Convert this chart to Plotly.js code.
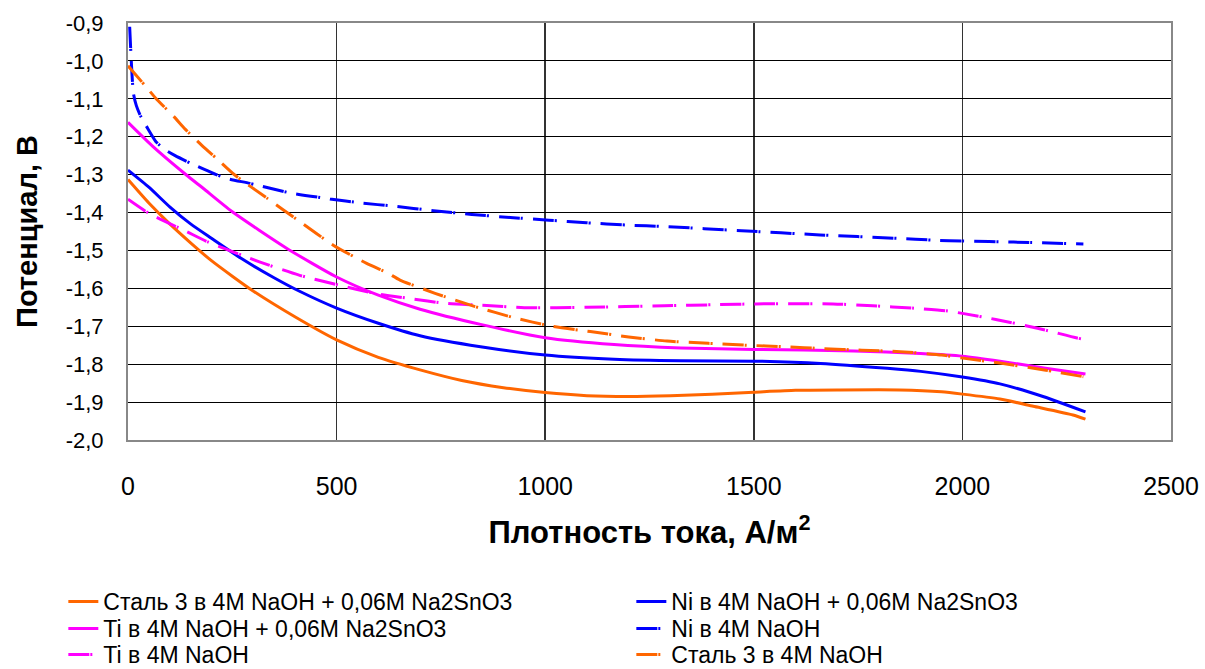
<!DOCTYPE html>
<html>
<head>
<meta charset="utf-8">
<script src="https://cdn.plot.ly/plotly-3.0.1.min.js"></script>
<style>html,body{margin:0;padding:0;background:#fff;}#chart{width:1205px;height:669px;}</style>
</head>
<body>
<div id="chart"></div>
<script>
// Series names (legend order, row by row)
const seriesNames = [
  "Сталь 3 в 4M NaOH + 0,06M Na2SnO3",
  "Ni в 4M NaOH + 0,06M Na2SnO3",
  "Ti в 4M NaOH + 0,06M Na2SnO3",
  "Ni в 4M NaOH",
  "Ti в 4M NaOH",
  "Сталь 3 в 4M NaOH"
];

// Сталь 3 в 4M NaOH + 0,06M Na2SnO3
const steelSnX = [0, 50, 100, 150, 200, 250, 300, 400, 500, 600, 700, 800, 900, 1000, 1100, 1200, 1300, 1400, 1500, 1600, 1700, 1850, 1950, 2000, 2090, 2170, 2265, 2295];
const steelSnY = [-1.313, -1.375, -1.43, -1.48, -1.527, -1.568, -1.607, -1.675, -1.736, -1.782, -1.815, -1.843, -1.862, -1.875, -1.883, -1.885, -1.883, -1.879, -1.874, -1.869, -1.868, -1.868, -1.873, -1.879, -1.892, -1.911, -1.934, -1.945];

// Ni в 4M NaOH + 0,06M Na2SnO3
const niSnX = [0, 50, 100, 150, 200, 270, 350, 410, 500, 600, 700, 845, 1000, 1165, 1325, 1500, 1660, 1820, 1900, 2000, 2090, 2195, 2295];
const niSnY = [-1.288, -1.333, -1.385, -1.43, -1.468, -1.52, -1.572, -1.607, -1.652, -1.692, -1.725, -1.754, -1.776, -1.787, -1.791, -1.792, -1.798, -1.811, -1.819, -1.834, -1.852, -1.886, -1.926];

// Ti в 4M NaOH + 0,06M Na2SnO3
const tiSnX = [0, 60, 140, 180, 250, 380, 500, 600, 700, 845, 1000, 1165, 1325, 1500, 1740, 1900, 2000, 2090, 2195, 2295];
const tiSnY = [-1.162, -1.226, -1.301, -1.336, -1.398, -1.494, -1.57, -1.618, -1.655, -1.695, -1.73, -1.748, -1.757, -1.761, -1.765, -1.772, -1.779, -1.792, -1.81, -1.826];

// Ni в 4M NaOH
const niX = [4, 13, 20, 30, 45, 67, 90, 113, 150, 205, 237, 292, 388, 484, 560, 636, 732, 824, 916, 1009, 1099, 1195, 1287, 1471, 1659, 1843, 1935, 2001, 2123, 2290];
const niY = [-0.91, -1.085, -1.118, -1.145, -1.174, -1.213, -1.235, -1.25, -1.27, -1.297, -1.31, -1.323, -1.348, -1.364, -1.375, -1.383, -1.395, -1.405, -1.413, -1.42, -1.427, -1.433, -1.437, -1.448, -1.459, -1.468, -1.473, -1.475, -1.478, -1.483];

// Ti в 4M NaOH
const tiX = [0, 50, 140, 190, 315, 410, 500, 600, 670, 765, 860, 950, 1100, 1285, 1415, 1505, 1690, 1785, 1880, 1960, 2000, 2080, 2180, 2275, 2295];
const tiY = [-1.365, -1.402, -1.45, -1.477, -1.53, -1.565, -1.59, -1.615, -1.626, -1.64, -1.645, -1.651, -1.65, -1.646, -1.643, -1.641, -1.641, -1.646, -1.652, -1.659, -1.666, -1.682, -1.705, -1.731, -1.735];

// Сталь 3 в 4M NaOH
const steelX = [0, 40, 67, 110, 137, 180, 212, 256, 333, 412, 492, 572, 620, 652, 736, 832, 924, 1016, 1108, 1200, 1292, 1391, 1483, 1575, 1667, 1759, 1851, 1951, 2001, 2090, 2200, 2290];
const steelY = [-1.013, -1.064, -1.099, -1.147, -1.18, -1.226, -1.257, -1.301, -1.362, -1.424, -1.486, -1.534, -1.558, -1.578, -1.613, -1.648, -1.677, -1.7, -1.714, -1.728, -1.739, -1.745, -1.75, -1.754, -1.759, -1.763, -1.767, -1.776, -1.784, -1.797, -1.816, -1.833];

// Axis ticks
const xTickVals = [0, 500, 1000, 1500, 2000, 2500];
const yTickVals = [-2.0, -1.9, -1.8, -1.7, -1.6, -1.5, -1.4, -1.3, -1.2, -1.1, -1.0, -0.9];
const yTickLabels = ["-2,0", "-1,9", "-1,8", "-1,7", "-1,6", "-1,5", "-1,4", "-1,3", "-1,2", "-1,1", "-1,0", "-0,9"];

const ORANGE = "#FF6600", BLUE = "#0000FF", MAGENTA = "#FF00FF";
const DASHDOT = "21px,1px,2px,10px";

const xs = [steelSnX, niSnX, tiSnX, niX, tiX, steelX];
const ys = [steelSnY, niSnY, tiSnY, niY, tiY, steelY];
const colors = [ORANGE, BLUE, MAGENTA, BLUE, MAGENTA, ORANGE];
const dashes = ["solid", "solid", "solid", DASHDOT, DASHDOT, DASHDOT];
const legendRows = ["legend", "legend", "legend2", "legend2", "legend3", "legend3"];

const traces = seriesNames.map((n, i) => ({
  type: "scatter", mode: "lines", name: n,
  x: xs[i], y: ys[i], legend: legendRows[i],
  line: {color: colors[i], width: 3, dash: dashes[i], shape: "spline", smoothing: 0.6}
}));

const FONT = "Liberation Sans, Arial, sans-serif";

function legendRow(yPaper) {
  return {
    orientation: "h", x: -0.062, xanchor: "left", y: yPaper, yanchor: "top",
    entrywidth: 523, traceorder: "normal",
    font: {size: 23, family: FONT, color: "#000"},
    bgcolor: "rgba(0,0,0,0)", itemwidth: 30
  };
}

const layout = {
  width: 1205, height: 669,
  margin: {l: 128, r: 34, t: 23, b: 229, autoexpand: false},
  paper_bgcolor: "#fff", plot_bgcolor: "#fff",
  font: {family: FONT, color: "#000"},
  showlegend: true,
  xaxis: {
    range: [0, 2500], tickvals: xTickVals, ticks: "", ticklabelstandoff: 23,
    tickfont: {size: 25, family: FONT, color: "#000"},
    showgrid: true, gridcolor: "#333", gridwidth: 1.5, zeroline: false,
    showline: true, linecolor: "#888", linewidth: 2, mirror: true,
    title: {text: "Плотность тока, А/м<sup>2</sup>", font: {size: 31, family: FONT, color: "#000", weight: "bold"}, standoff: 22}
  },
  yaxis: {
    range: [-2.0, -0.9], tickvals: yTickVals, ticktext: yTickLabels, ticks: "", ticklabelstandoff: 18,
    tickfont: {size: 22, family: FONT, color: "#000"},
    showgrid: true, gridcolor: "#000", gridwidth: 1, zeroline: false,
    showline: true, linecolor: "#888", linewidth: 2, mirror: true,
    title: {text: "Потенциал, В", font: {size: 29, family: FONT, color: "#000", weight: "bold"}, standoff: 20}
  },
  legend: legendRow(-0.3357),
  legend2: legendRow(-0.4005),
  legend3: legendRow(-0.4628)
};

Plotly.newPlot("chart", traces, layout, {displayModeBar: false, staticPlot: true});
</script>
</body>
</html>
